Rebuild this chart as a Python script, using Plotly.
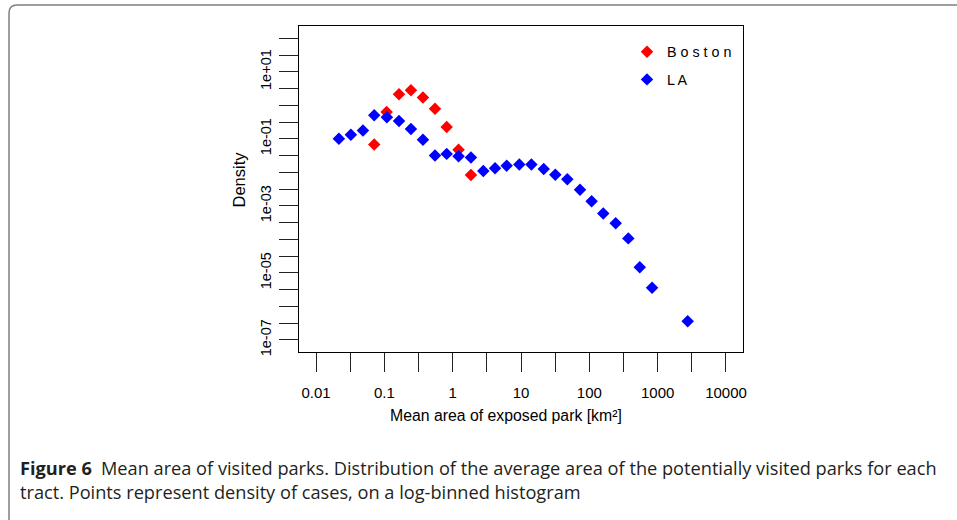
import plotly.graph_objects as go

# ---------------- data ----------------
boston_area = [0.0711, 0.108, 0.164, 0.245, 0.367, 0.551, 0.817, 1.22, 1.85]
boston_density = [0.0676, 0.631, 2.14, 2.82, 1.70, 0.794, 0.224, 0.0468, 0.00832]

la_area = [0.0216, 0.0324, 0.0486, 0.0711, 0.109, 0.164, 0.245, 0.367, 0.551,
           0.817, 1.22, 1.85, 2.81, 4.17, 6.17, 9.44, 14.2, 21.5, 31.8, 47.6,
           73.1, 108, 160, 243, 372, 547, 828, 2750]
la_density = [0.100, 0.132, 0.178, 0.501, 0.437, 0.339, 0.195, 0.0933, 0.0316,
              0.0355, 0.0302, 0.0275, 0.0110, 0.0132, 0.0158, 0.0170, 0.0170,
              0.0126, 0.00851, 0.00617, 0.00302, 0.00138, 0.000589, 0.000302,
              0.000107, 1.48e-5, 3.63e-6, 3.63e-7]

x_tick_vals = [0.01, 0.0316, 0.1, 0.316, 1, 3.16, 10, 31.6, 100, 316, 1000, 3162, 10000]
x_tick_text = ["0.01", "", "0.1", "", "1", "", "10", "", "100", "", "1000", "", "10000"]

y_tick_vals = [1e-7, 3.16e-7, 1e-6, 3.16e-6, 1e-5, 3.16e-5, 1e-4, 3.16e-4, 1e-3,
               3.16e-3, 1e-2, 3.16e-2, 1e-1, 3.16e-1, 1, 3.16, 10, 31.6, 100]
y_tick_text = ["1e-07", "", "", "", "1e-05", "", "", "", "1e-03",
               "", "", "", "1e-01", "", "", "", "1e+01", "", ""]

series_names = ["B o s t o n", "L A"]
series_colors = ["#ff0000", "#0000ff"]

x_title = "Mean area of exposed park [km²]"
y_title = "Density"
caption_1 = "<b>Figure 6</b>\u2002Mean area of visited parks. Distribution of the average area of the potentially visited parks for each"
caption_2 = "tract. Points represent density of cases, on a log-binned histogram"

# ---------------- layout geometry (page pixels) ----------------
W, H = 957, 520
L, R, T, B = 299, 743, 26, 352


def px(x):
    return (x - L) / (R - L)


def py(y):
    return (B - y) / (B - T)


AXFONT = "Liberation Sans, Arial, sans-serif"
CAPFONT = "Open Sans, sans-serif"

fig = go.Figure()
fig.add_trace(go.Scatter(
    x=boston_area, y=boston_density, mode="markers", name=series_names[0],
    legendgroup="a",
    marker=dict(symbol="diamond", size=9.6, color=series_colors[0], line=dict(width=0)),
))
fig.add_trace(go.Scatter(
    x=la_area, y=la_density, mode="markers", name=series_names[1],
    legendgroup="b",
    marker=dict(symbol="diamond", size=9.6, color=series_colors[1], line=dict(width=0)),
))

axis_common = dict(
    type="log", showgrid=False, zeroline=False, showline=True, mirror=True,
    linecolor="#000000", linewidth=1, ticks="outside", ticklen=19,
    tickcolor="#222222", tickwidth=1,
)

fig.update_xaxes(
    range=[-2.249, 4.249], tickmode="array", tickvals=x_tick_vals, ticktext=x_tick_text,
    tickfont=dict(family=AXFONT, size=15, color="#000000"), ticklabelstandoff=8,
    **axis_common,
)
fig.update_yaxes(
    range=[-7.36, 2.365], tickmode="array", tickvals=y_tick_vals, ticktext=y_tick_text,
    tickangle=-90, tickfont=dict(family=AXFONT, size=14.5, color="#000000"),
    ticklabelstandoff=2,
    **axis_common,
)

annotations = [
    dict(text=x_title, x=px(506), y=py(415), xref="paper", yref="paper",
         xanchor="center", yanchor="middle", showarrow=False,
         font=dict(family=AXFONT, size=15.8, color="#000000")),
    dict(text=y_title, x=px(239), y=py(179.5), xref="paper", yref="paper",
         xanchor="center", yanchor="middle", showarrow=False, textangle=-90,
         font=dict(family=AXFONT, size=16.5, color="#000000")),
    dict(text=caption_1, x=px(18), y=py(468), xref="paper", yref="paper",
         xanchor="left", yanchor="middle", showarrow=False, align="left",
         font=dict(family=CAPFONT, size=18.2, color="#231f20")),
    dict(text=caption_2, x=px(18), y=py(492), xref="paper", yref="paper",
         xanchor="left", yanchor="middle", showarrow=False, align="left",
         font=dict(family=CAPFONT, size=18.2, color="#231f20")),
]

frame_path = (
    f"M {px(975)},{py(5)} L {px(17)},{py(5)} "
    f"Q {px(9)},{py(5)} {px(9)},{py(13)} L {px(9)},{py(540)}"
)

fig.update_layout(
    width=W, height=H, autosize=False,
    margin=dict(l=L, r=W - R, t=T, b=H - B),
    paper_bgcolor="#ffffff", plot_bgcolor="#ffffff",
    showlegend=True,
    legend=dict(
        x=px(627), y=py(36), xanchor="left", yanchor="top",
        bgcolor="rgba(0,0,0,0)", borderwidth=0, tracegroupgap=6,
        font=dict(family=AXFONT, size=14.3, color="#000000"),
        itemsizing="trace",
    ),
    annotations=annotations,
    shapes=[dict(type="path", path=frame_path, xref="paper", yref="paper",
                 line=dict(color="#7f7f7f", width=1.5), layer="below")],
)

fig.write_html(
    "out.html",
    config={"displayModeBar": False},
    post_script="document.body.style.margin='0px';document.body.style.padding='0px';document.body.style.overflow='hidden';",
)
